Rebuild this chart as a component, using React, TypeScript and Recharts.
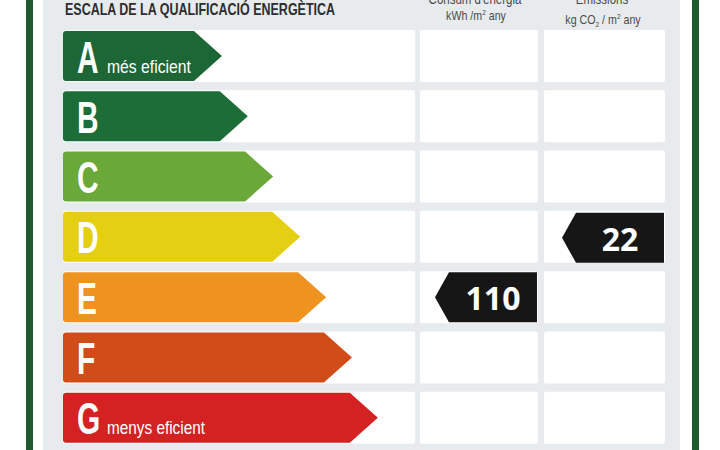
import { BarChart, Bar, XAxis, YAxis, Cell } from 'recharts'

const grades = ['A', 'B', 'C', 'D', 'E', 'F', 'G']
// arrow length, % of the plot width
const gradeLength = [26.4, 30.7, 34.9, 39.4, 43.7, 48.0, 52.3]
const gradeNote = ['més eficient', '', '', '', '', '', 'menys eficient']
const energyGrade = 'E'
const energyValue = 110
const emissionsGrade = 'D'
const emissionsValue = 22

const gradeColors = ['#1d6636', '#1c6d38', '#6aa83a', '#e5cf12', '#ee9320', '#d04d19', '#d42222']

const rows = grades.map((g, i) => ({
  grade: g,
  length: gradeLength[i],
  note: gradeNote[i],
  energy: g === energyGrade ? energyValue : null,
  emissions: g === emissionsGrade ? emissionsValue : null,
}))

// table columns as share of the plot width
const COL1_END = 0.585
const COL2 = [0.593, 0.789]
const COL3 = [0.799, 1]

const FONT = '"Liberation Sans", Arial, sans-serif'

const GradeArrow = (props: any) => {
  const { x, y, width, height, fill, index } = props
  const row = props.payload ?? rows[index]
  const s = height * 0.56
  const r = 3
  const tip = x + width
  const d = `M${x + r},${y} L${tip - s},${y} L${tip},${y + height / 2} L${tip - s},${y + height} L${x + r},${y + height} Q${x},${y + height} ${x},${y + height - r} L${x},${y + r} Q${x},${y} ${x + r},${y} Z`
  const base = y + height * 0.83
  return (
    <g>
      <path d={d} fill={fill} />
      <text transform={`translate(${x + 14},${base}) scale(0.68,1)`} fontSize={44} fontWeight={700} fill="#fff" fontFamily={FONT}>
        {row.grade}
      </text>
      {row.note ? (
        <text x={x + 44} y={base} fontSize={18.5} fill="#fff" fontFamily={FONT}
          textLength={row.note.length * 7} lengthAdjust="spacingAndGlyphs">
          {row.note}
        </text>
      ) : null}
    </g>
  )
}

const Pointer = ({ right, y, h, value }: { right: number; y: number; h: number; value: number }) => {
  const w = 102
  const s = 14
  const left = right - w
  const d = `M${left},${y + h / 2} L${left + s},${y} L${right},${y} L${right},${y + h} L${left + s},${y + h} Z`
  return (
    <g>
      <path d={d} fill="#161616" />
      <text x={left + s + (w - s) / 2} y={y + h * 0.76} textAnchor="middle" fontSize={32} fontWeight={700}
        fill="#fff" fontFamily='"Open Sans", "DejaVu Sans", sans-serif'>
        {value}
      </text>
    </g>
  )
}

const RowCells = (props: any) => {
  const { x, y, width, height, index } = props
  const row = props.payload ?? rows[index]
  const px = (f: number) => x + f * width
  return (
    <g>
      <rect x={x} y={y - 1} width={COL1_END * width} height={height + 2} rx={2} fill="#fff" />
      <rect x={px(COL2[0])} y={y - 1} width={(COL2[1] - COL2[0]) * width} height={height + 2} rx={2} fill="#fff" />
      <rect x={px(COL3[0])} y={y - 1} width={(COL3[1] - COL3[0]) * width} height={height + 2} rx={2} fill="#fff" />
      {row.energy != null ? <Pointer right={px(COL2[1]) - 1} y={y} h={height} value={row.energy} /> : null}
      {row.emissions != null ? <Pointer right={px(COL3[1]) - 1} y={y + 1} h={height} value={row.emissions} /> : null}
    </g>
  )
}

const Headers = () => (
  <svg width={720} height={450} style={{ position: 'absolute', left: 0, top: 0, pointerEvents: 'none' }}>
    <text x={65} y={15} fontSize={16.5} fontWeight={700} fill="#2e2e2e" fontFamily={FONT}
      textLength={270} lengthAdjust="spacingAndGlyphs">
      ESCALA DE LA QUALIFICACIÓ ENERGÈTICA
    </text>
    <g fill="#4a4a4a" fontFamily={FONT} fontSize={14}>
      <text transform="translate(475,4) scale(0.82,1)" textAnchor="middle">Consum d'energia</text>
      <text transform="translate(476,20) scale(0.82,1)" textAnchor="middle" fontSize={13}>
        kWh /m<tspan dy={-5} fontSize={8}>2</tspan><tspan dy={5}>{'  any'}</tspan>
      </text>
      <text transform="translate(602,4) scale(0.82,1)" textAnchor="middle">Emissions</text>
      <text transform="translate(603,24) scale(0.82,1)" textAnchor="middle" fontSize={13}>
        kg CO<tspan dy={3} fontSize={8}>2</tspan><tspan dy={-3}>{'  / m'}</tspan>
        <tspan dy={-5} fontSize={8}>2</tspan><tspan dy={5}>{'  any'}</tspan>
      </text>
    </g>
  </svg>
)

export default function App() {
  return (
    <div style={{ position: 'absolute', left: 0, top: 0, width: 720, height: 450, background: '#fff', overflow: 'hidden' }}>
      <div style={{ position: 'absolute', left: 26, top: 0, width: 7, height: 450, background: '#1d5b2e' }} />
      <div style={{ position: 'absolute', left: 692, top: 0, width: 7, height: 450, background: '#1d5b2e' }} />
      <div style={{ position: 'absolute', left: 43, top: 0, width: 637, height: 450, background: '#e7ebee' }} />
      <div style={{ position: 'absolute', left: 0, top: 0 }}>
        <BarChart width={720} height={450} data={rows} layout="vertical"
          margin={{ top: 26, right: 55, bottom: 2, left: 63 }} barSize={50}>
          <XAxis type="number" domain={[0, 100]} hide />
          <YAxis type="category" dataKey="grade" hide width={0} />
          <Bar dataKey="length" isAnimationActive={false} shape={GradeArrow} background={RowCells}>
            {rows.map((r, i) => (
              <Cell key={r.grade} fill={gradeColors[i]} />
            ))}
          </Bar>
        </BarChart>
      </div>
      <Headers />
    </div>
  )
}
